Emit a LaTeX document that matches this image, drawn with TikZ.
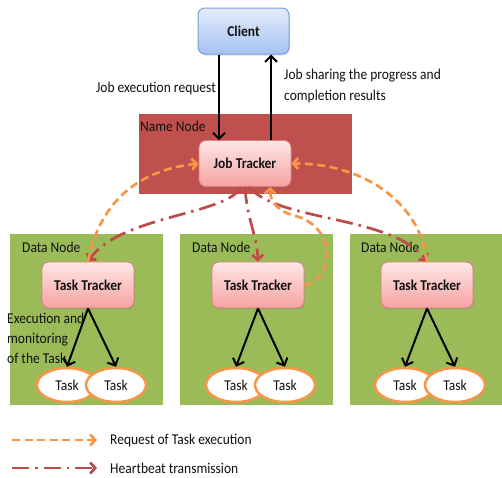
\documentclass[tikz,border=0pt]{standalone}
\usepackage{fontspec}
\setmainfont{Carlito}[FakeStretch=0.9]
\usetikzlibrary{arrows.meta,shadows,shapes.geometric}

\definecolor{nnred}{HTML}{C0504D}
\definecolor{dngreen}{HTML}{9BBB59}
\definecolor{reqorange}{HTML}{F79646}
\definecolor{hbred}{HTML}{BE4B48}
\definecolor{clienttop}{HTML}{E3ECFB}
\definecolor{clientbot}{HTML}{A6C3F2}
\definecolor{clientline}{HTML}{7A9ED8}
\definecolor{trktop}{HTML}{FFE6E6}
\definecolor{trkbot}{HTML}{F6A2A2}
\definecolor{trkline}{HTML}{DA7E7E}
\definecolor{txt}{HTML}{111111}

\tikzset{
  lbl/.style={font=\fontsize{15}{18}\selectfont, text=txt, inner sep=0pt},
  clientbox/.style={draw=clientline, line width=1pt, rounded corners=7pt,
    top color=clienttop, bottom color=clientbot,
    minimum width=91pt, minimum height=46pt,
    font=\fontsize{15}{18}\selectfont\bfseries, text=txt,
    drop shadow={opacity=0.25, shadow xshift=1pt, shadow yshift=-1.5pt}},
  trkbox/.style={draw=trkline, line width=0.8pt, rounded corners=7pt,
    top color=trktop, bottom color=trkbot,
    minimum width=92pt, minimum height=46pt,
    font=\fontsize{15}{18}\selectfont\bfseries, text=txt,
    drop shadow={opacity=0.25, shadow xshift=1pt, shadow yshift=-1.5pt}},
  namebox/.style={draw=white, line width=3pt, fill=nnred,
    minimum width=216pt, minimum height=83pt, inner sep=0pt,
    drop shadow={opacity=0.25, shadow xshift=1.5pt, shadow yshift=-2pt}},
  databox/.style={draw=white, line width=3pt, fill=dngreen,
    minimum width=156pt, minimum height=174pt, inner sep=0pt,
    drop shadow={opacity=0.25, shadow xshift=1.5pt, shadow yshift=-2pt}},
  taskell/.style={ellipse, draw=reqorange, line width=2.5pt, fill=white,
    minimum width=60pt, minimum height=34pt, inner sep=0pt,
    font=\fontsize{15}{18}\selectfont, text=txt},
  blk/.style={line width=2pt, black,
    -{Straight Barb[length=6pt, width=12pt, line width=2pt]}},
  req/.style={line width=2.7pt, reqorange, dash pattern=on 8pt off 4.5pt,
    -{Straight Barb[length=5pt, width=11pt, line width=2.7pt]}},
  hb/.style={line width=2.7pt, hbred, dash pattern=on 17pt off 6pt on 2.5pt off 6pt,
    -{Straight Barb[length=5pt, width=11pt, line width=2.7pt]}},
}

\begin{document}
\begin{tikzpicture}[x=1pt, y=-1pt]
\useasboundingbox[fill=white] (0,0) rectangle (502,477);

% containers
\node[namebox] (nn) at (245,153.5) {};
\node[lbl, anchor=west] (nnlbl) at (140,126) {Name Node};

\node[databox] (dn1) at (86,319) {};
\node[databox] (dn2) at (256,319) {};
\node[databox] (dn3) at (426,319) {};
\node[lbl, anchor=west] (dn1lbl) at (22,247) {Data Node};
\node[lbl, anchor=west] (dn2lbl) at (192,247) {Data Node};
\node[lbl, anchor=west] (dn3lbl) at (361,247) {Data Node};

% trackers and client
\node[clientbox] (client) at (243.5,31) {Client};
\node[trkbox] (jt) at (245,163.5) {Job Tracker};
\node[trkbox] (tt1) at (88,285) {Task Tracker};
\node[trkbox] (tt2) at (258,285) {Task Tracker};
\node[trkbox] (tt3) at (427,285) {Task Tracker};

% tasks
\node[taskell] (t1a) at (67,385) {Task};
\node[taskell] (t1b) at (116,385) {Task};
\node[taskell] (t2a) at (236,385) {Task};
\node[taskell] (t2b) at (285,385) {Task};
\node[taskell] (t3a) at (405,385) {Task};
\node[taskell] (t3b) at (455,385) {Task};

% client <-> job tracker
\draw[blk] ([xshift=-24.5pt]client.south) -- ([xshift=-26pt]jt.north);
\draw[blk] ([xshift=26pt]jt.north) -- ([xshift=27.5pt]client.south);
\node[lbl, anchor=east] (reqlbl) at (216,88) {Job execution request};
\node[lbl, anchor=west, align=left, font=\fontsize{15}{21}\selectfont] (reslbl) at (284,86)
  {Job sharing the progress and\\completion results};

% task trackers -> tasks
\draw[blk] (tt1.south) -- (t1a.north);
\draw[blk] (tt1.south) -- (t1b.north);
\draw[blk] (tt2.south) -- (t2a.north);
\draw[blk] (tt2.south) -- (t2b.north);
\draw[blk] (tt3.south) -- (t3a.north);
\draw[blk] (tt3.south) -- (t3b.north);
\node[lbl, anchor=west, align=left, font=\fontsize{15}{20}\selectfont] (exlbl) at (7,338)
  {Execution and\\monitoring\\of the Task};

% heartbeat: job tracker -> task trackers
\draw[hb] ([xshift=-4pt]jt.south) .. controls (228,215) and (120,215) .. (tt1.north);
\draw[hb] (jt.south) .. controls (247,220) and (257,235) .. (tt2.north);
\draw[hb] ([xshift=4pt]jt.south) .. controls (278,222) and (392,215) .. (tt3.north);

% task requests: task trackers -> job tracker
\draw[req] (tt1.north) .. controls (100,200) and (140,170) .. (jt.west);
\draw[req] (tt3.north) .. controls (420,200) and (360,163) .. (jt.east);
\draw[req] (tt2.east) .. controls (335,280) and (338,225) .. (292,215)
  .. controls (276,210) and (270,200) .. ([xshift=25pt]jt.south);

% legend
\coordinate (lga) at (12,440);
\coordinate (lgb) at (97,440);
\coordinate (lha) at (12,468);
\coordinate (lhb) at (97,468);
\draw[req] (lga) -- (lgb);
\draw[hb] (lha) -- (lhb);
\node[lbl, anchor=west] (lgtxt) at (110,440) {Request of Task execution};
\node[lbl, anchor=west] (lhtxt) at (110,468) {Heartbeat transmission};
\end{tikzpicture}
\end{document}
